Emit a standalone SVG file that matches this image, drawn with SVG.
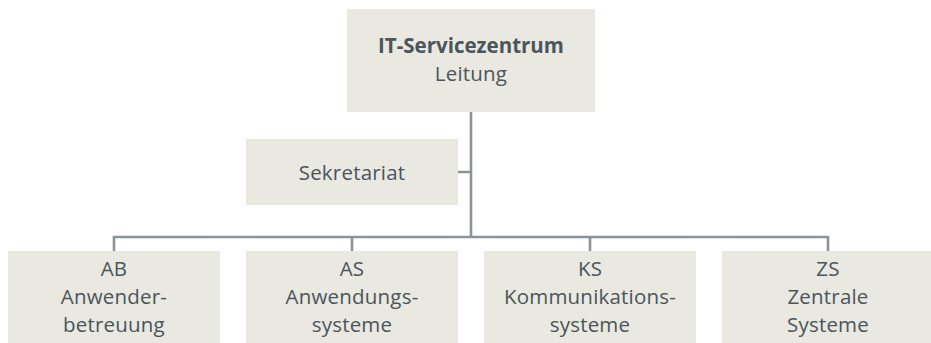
<svg xmlns="http://www.w3.org/2000/svg" width="931" height="343" viewBox="0 0 931 343">
<style>
.box{fill:#e9e8e1}
.t{font-family:"Open Sans","Noto Sans",sans-serif;font-size:20.5px;letter-spacing:0.2px;fill:#4b555b;text-anchor:middle}
.b{font-weight:bold;letter-spacing:0}
.c{stroke:#8a9399;stroke-width:2.6;fill:none}
</style>
<rect width="931" height="343" fill="#ffffff"/>
<g id="connectors">
<path class="c" d="M471 112V237M458 172H471M114 237H828M114 236V251M352 236V251M590 236V251M828 236V251"/>
</g>
<g id="leitung">
<rect class="box" x="347" y="9" width="248" height="103"/>
<text class="t b" x="471" y="53">IT-Servicezentrum</text>
<text class="t" x="471" y="81">Leitung</text>
</g>
<g id="sekretariat">
<rect class="box" x="246" y="139" width="212" height="66"/>
<text class="t" x="352" y="180">Sekretariat</text>
</g>
<g id="ab">
<rect class="box" x="8" y="251" width="212" height="92"/>
<text class="t" x="114" y="276">AB</text>
<text class="t" x="114" y="304">Anwender-</text>
<text class="t" x="114" y="332">betreuung</text>
</g>
<g id="as">
<rect class="box" x="246" y="251" width="212" height="92"/>
<text class="t" x="352" y="276">AS</text>
<text class="t" x="352" y="304">Anwendungs-</text>
<text class="t" x="352" y="332">systeme</text>
</g>
<g id="ks">
<rect class="box" x="484" y="251" width="212" height="92"/>
<text class="t" x="590" y="276">KS</text>
<text class="t" x="590" y="304">Kommunikations-</text>
<text class="t" x="590" y="332">systeme</text>
</g>
<g id="zs">
<rect class="box" x="722" y="251" width="212" height="92"/>
<text class="t" x="828" y="276">ZS</text>
<text class="t" x="828" y="304">Zentrale</text>
<text class="t" x="828" y="332">Systeme</text>
</g>
</svg>
